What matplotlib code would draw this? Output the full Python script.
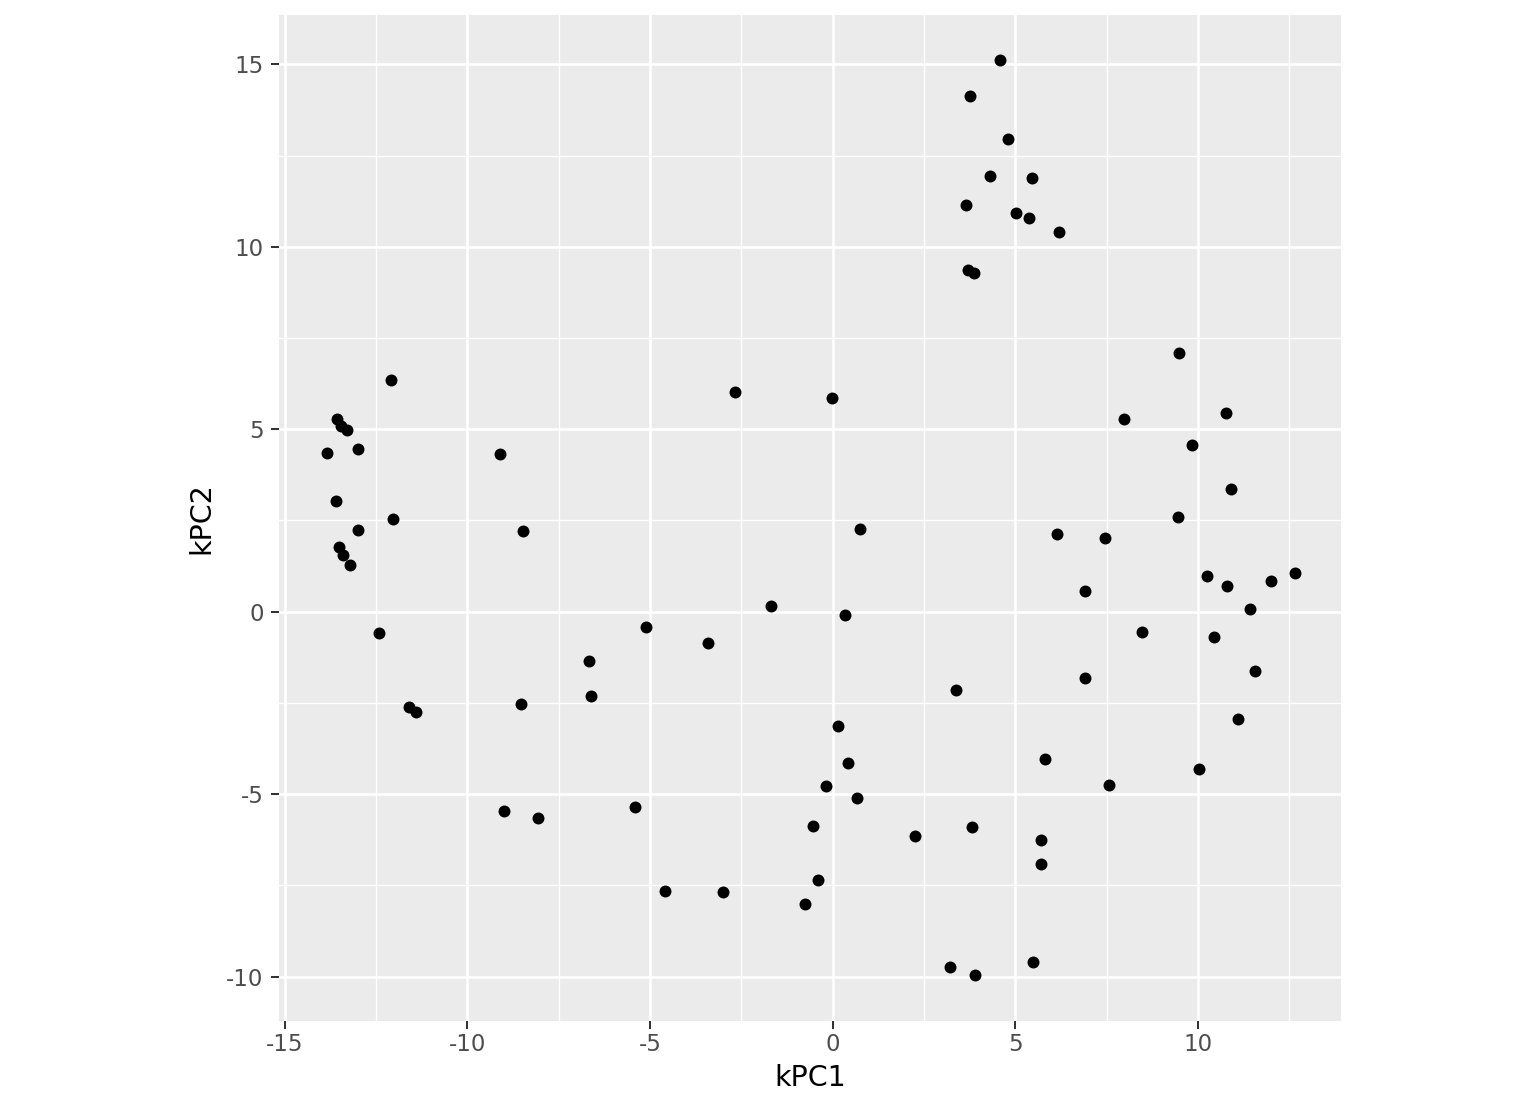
import matplotlib
matplotlib.use("Agg")
from matplotlib import pyplot as plt
from matplotlib.ticker import MultipleLocator

# kernel PCA scores
kpc1 = [4.58, 3.75, 4.79, 4.30, 5.45, 3.64, 5.01, 5.37, 6.19, 3.70, 3.86,
        9.48, 10.77, 7.97, 9.84, 10.90, 9.45, 6.14, 7.45, 10.25, 12.66, 12.00,
        10.79, 6.90, 11.42, 8.47, 10.44, 11.56, 6.90, 11.10, 10.03, 5.81, 7.56,
        3.37, 5.70, 5.70, 3.81, 2.25, 3.21, 3.89, 5.48,
        -0.03, 0.74, 0.33, 0.14, 0.41, -0.19, 0.68, -0.55, -0.41, -0.77,
        -2.68, -1.70, -3.42, -3.01, -4.60, -5.10, -6.66, -6.63, -5.42,
        -8.08, -9.01, -8.52, -8.49, -9.12,
        -12.08, -12.05, -13.56, -13.45, -13.29, -13.01, -13.84, -13.59, -13.01,
        -13.51, -13.40, -13.21, -12.41, -11.59, -11.40]
kpc2 = [15.12, 14.14, 12.96, 11.95, 11.89, 11.15, 10.93, 10.79, 10.41, 9.37, 9.29,
        7.10, 5.45, 5.29, 4.58, 3.37, 2.60, 2.14, 2.03, 0.99, 1.07, 0.85,
        0.71, 0.58, 0.08, -0.55, -0.68, -1.62, -1.81, -2.93, -4.30, -4.03, -4.74,
        -2.14, -6.25, -6.90, -5.89, -6.14, -9.73, -9.95, -9.59,
        5.86, 2.27, -0.08, -3.12, -4.14, -4.77, -5.10, -5.86, -7.34, -8.00,
        6.03, 0.16, -0.85, -7.67, -7.64, -0.41, -1.34, -2.30, -5.34,
        -5.64, -5.45, -2.52, 2.22, 4.33,
        6.36, 2.55, 5.29, 5.10, 4.99, 4.47, 4.36, 3.04, 2.25,
        1.78, 1.56, 1.29, -0.58, -2.60, -2.74]

fig = plt.figure(figsize=(15.36, 11.04), dpi=100)
ax = fig.add_axes([279 / 1536, 1 - 1020.5 / 1104, (1341 - 279) / 1536, (1020.5 - 15) / 1104])
ax.set_facecolor("#EBEBEB")

ax.scatter(kpc1, kpc2, s=74, color="black", linewidths=0, zorder=3)

ax.set_xlim(-15.16, 13.92)
ax.set_ylim(-11.2, 16.35)
ax.xaxis.set_major_locator(MultipleLocator(5))
ax.yaxis.set_major_locator(MultipleLocator(5))
ax.xaxis.set_minor_locator(MultipleLocator(2.5))
ax.yaxis.set_minor_locator(MultipleLocator(2.5))
ax.grid(which="major", color="white", linewidth=1.9, zorder=0)
ax.grid(which="minor", color="white", linewidth=0.95, zorder=0)
ax.set_axisbelow(True)
for s in ax.spines.values():
    s.set_visible(False)

ax.tick_params(which="major", length=5.5, width=1.45, color="#333333",
               labelsize=16.5, labelcolor="#4D4D4D")
ax.tick_params(axis="x", pad=3.5)
ax.tick_params(axis="y", pad=5.5)
ax.tick_params(which="minor", length=0)

ax.set_xticks([-15, -10, -5, 0, 5, 10])
ax.set_xticklabels(["-15", "-10", "-5", "0", "5", "10"])
ax.set_yticks([-10, -5, 0, 5, 10, 15])
ax.set_yticklabels(["-10", "-5", "0", "5", "10", "15"])

ax.set_xlabel("kPC1", fontsize=20.5, labelpad=6)
ax.set_ylabel("kPC2", fontsize=20.5, labelpad=8)

plt.savefig("out.png", dpi=100)
